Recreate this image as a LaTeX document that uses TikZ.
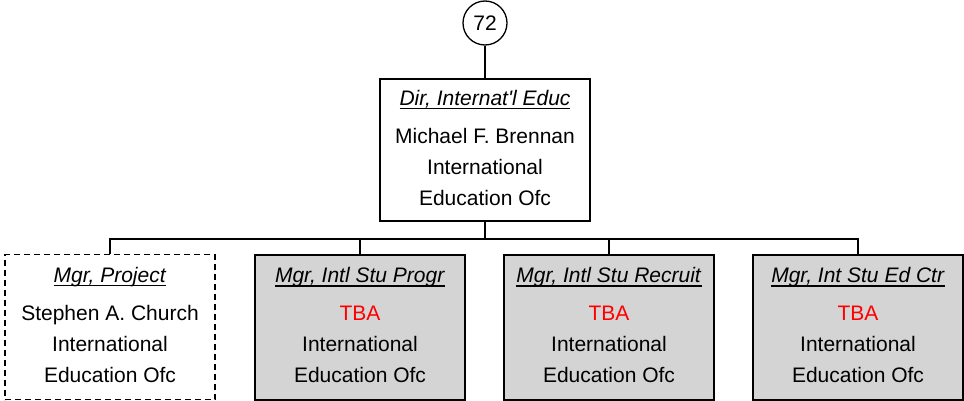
\documentclass[tikz,border=0pt]{standalone}
\usepackage{fontspec}
\setmainfont{Liberation Sans}
\newcommand\myul[1]{\leavevmode\setbox0\hbox{#1}\rlap{\rule[-4pt]{\wd0}{1.3pt}}\box0}
\newcommand\boxtitle[1]{\myul{\textit{#1}}\\[7pt]}
\newcommand\lastline[1]{#1\rule[-5pt]{0pt}{0pt}}
\definecolor{boxgray}{RGB}{212,212,212}
\begin{document}
\begin{tikzpicture}[x=1pt,y=1pt,
  every node/.style={font=\fontsize{21}{31}\selectfont},
  orgbox/.style={draw, line width=1.3pt, rectangle, minimum width=210pt, align=center, inner sep=0pt},
  vacant/.style={orgbox, fill=boxgray, minimum height=145pt},
  proj/.style={orgbox, dash pattern=on 6pt off 4pt, minimum height=145pt},
  link/.style={line width=1.3pt}]
\useasboundingbox (0,0) rectangle (964,-401);
\node[draw, circle, line width=1.3pt, minimum size=44pt, inner sep=0pt] (top) at (485,-23) {72};
\node[orgbox, minimum height=142pt] (dir) at (485,-150)
  {\boxtitle{Dir, Internat\textquotesingle l Educ}Michael F. Brennan\\International\\\lastline{Education Ofc}};
\node[proj] (proj) at (110,-327)
  {\boxtitle{Mgr, Project}Stephen A. Church\\International\\\lastline{Education Ofc}};
\node[vacant] (progr) at (360,-327.5)
  {\boxtitle{Mgr, Intl Stu Progr}\textcolor{red}{TBA}\\International\\\lastline{Education Ofc}};
\node[vacant] (recr) at (609,-327.5)
  {\boxtitle{Mgr, Intl Stu Recruit}\textcolor{red}{TBA}\\International\\\lastline{Education Ofc}};
\node[vacant] (edctr) at (858,-327.5)
  {\boxtitle{Mgr, Int Stu Ed Ctr}\textcolor{red}{TBA}\\International\\\lastline{Education Ofc}};
\coordinate (bus) at (485,-239);
\draw[link] (top.south) -- (dir.north);
\draw[link] (dir.south) -- (bus);
\draw[link] (proj.north) |- (bus) -| (edctr.north);
\draw[link] (progr.north) -- (progr.north |- bus);
\draw[link] (recr.north) -- (recr.north |- bus);
\end{tikzpicture}
\end{document}
